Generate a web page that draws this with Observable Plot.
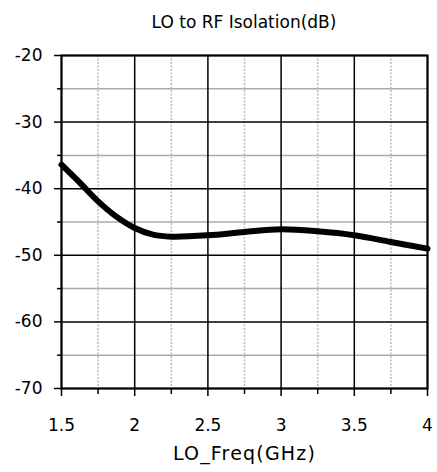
<!DOCTYPE html>
<html>
<head>
<meta charset="utf-8">
<script src="https://cdn.jsdelivr.net/npm/d3@7"></script>
<script src="https://cdn.jsdelivr.net/npm/@observablehq/plot@0.6"></script>
<style>
  body { margin: 0; background: #fff; }
  #title { width: 366px; margin-left: 61px; height: 40px; line-height: 44px; text-align: center;
    font-family: "DejaVu Sans", sans-serif; font-size: 17px; color: #000; overflow: hidden; }
</style>
</head>
<body>
<div id="title">LO to RF Isolation(dB)</div>
<div id="chart"></div>
<script>
const freq = [1.5, 1.625, 1.75, 1.875, 2, 2.125, 2.25, 2.5, 2.75, 3, 3.25, 3.5, 3.75, 4];
const isolation = [-36.4, -39.1, -41.9, -44.2, -45.9, -46.9, -47.2, -47.0, -46.5, -46.1, -46.4, -47.0, -48.0, -49.0];
const xMajor = [1.5, 2, 2.5, 3, 3.5, 4];
const xMinor = [1.75, 2.25, 2.75, 3.25, 3.75];
const yMajor = [-20, -30, -40, -50, -60, -70];
const yMinor = [-25, -35, -45, -55, -65];

const data = freq.map((f, i) => ({f, v: isolation[i]}));

const chart = Plot.plot({
  width: 437,
  height: 432,
  marginLeft: 61,
  marginRight: 10,
  marginTop: 15,
  marginBottom: 84,
  style: {fontFamily: "DejaVu Sans, sans-serif", fontSize: "17px", color: "#000", background: "#fff"},
  x: {domain: [1.5, 4], label: null},
  y: {domain: [-70, -20], label: null},
  marks: [
    Plot.ruleY(yMinor, {stroke: "#aaa", strokeWidth: 1.5}),
    Plot.ruleX(xMinor, {stroke: "#bbb", strokeWidth: 1.5, strokeDasharray: "2,1.5"}),
    Plot.ruleY(yMajor, {stroke: "#000", strokeWidth: 1.5}),
    Plot.ruleX(xMajor, {stroke: "#000", strokeWidth: 1.5}),
    Plot.frame({stroke: "#000", strokeWidth: 2}),
    Plot.axisY(yMinor, {tickSize: 4, tickFormat: () => "", strokeWidth: 1.5, label: null}),
    Plot.axisY(yMajor, {tickSize: 7, tickPadding: 12, strokeWidth: 1.5, tickFormat: d => String(d), label: null}),
    Plot.axisX(xMinor, {tickSize: 6, tickFormat: () => "", strokeWidth: 1.5, label: null}),
    Plot.axisX(xMajor, {tickSize: 8, tickPadding: 22, strokeWidth: 1.5, tickFormat: d => String(d), label: null}),
    Plot.text(["LO_Freq(GHz)"], {frameAnchor: "bottom", dy: 71, fontSize: 19}),
    Plot.line(data, {x: "f", y: "v", curve: "catmull-rom", stroke: "#000", strokeWidth: 6})
  ]
});
d3.select(chart).selectAll("text").filter(function() { return this.textContent === "LO_Freq(GHz)"; })
  .style("letter-spacing", "1.2px");
document.getElementById("chart").appendChild(chart);
</script>
</body>
</html>
